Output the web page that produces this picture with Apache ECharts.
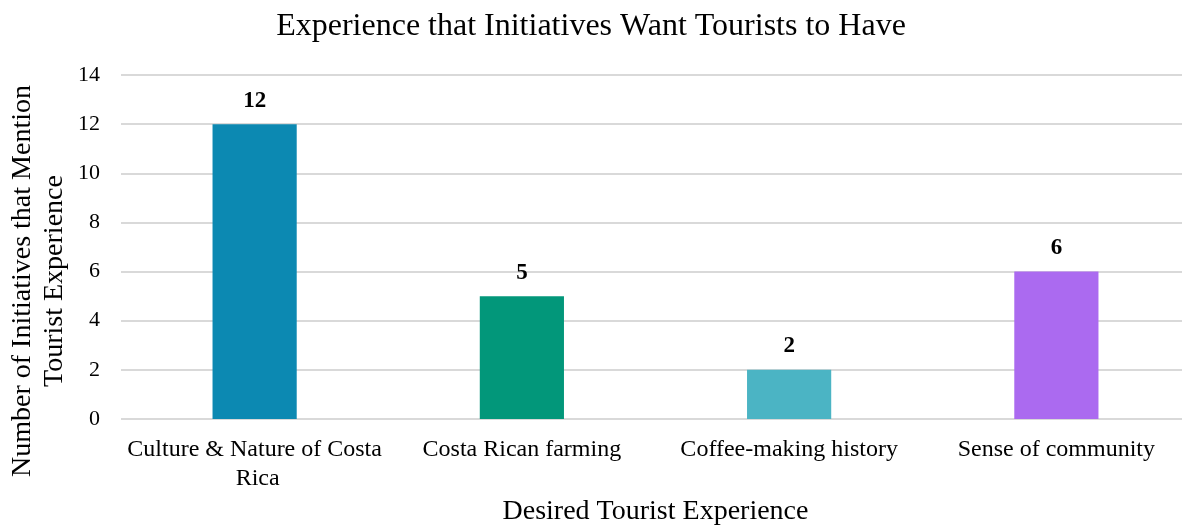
<!DOCTYPE html>
<html>
<head>
<meta charset="utf-8">
<script src="https://cdn.jsdelivr.net/npm/echarts@6/dist/echarts.min.js"></script>
<style>
  html, body { margin: 0; padding: 0; background: #fff; }
  #chart { width: 1182px; height: 529px; }
</style>
</head>
<body>
<div id="chart"></div>
<script>
const categories = ['Culture & Nature of Costa Rica', 'Costa Rican farming', 'Coffee-making history', 'Sense of community'];
const counts = [12, 5, 2, 6];
const barColors = ['#0C89B2', '#02977A', '#4BB4C4', '#AB6AF0'];

const serif = '"Liberation Serif", "Times New Roman", serif';

const myChart = echarts.init(document.getElementById('chart'));
const option = {
  animation: false,
  title: {
    text: 'Experience that Initiatives Want Tourists to Have',
    left: 'center',
    top: 6,
    textStyle: { fontFamily: serif, fontSize: 32, fontWeight: 'normal', color: '#000' }
  },
  grid: { left: 121, right: -8, top: 75, bottom: 110, outerBoundsMode: 'none' },
  graphic: [{
    type: 'text',
    x: 39,
    y: 281,
    rotation: Math.PI / 2,
    style: {
      text: 'Number of Initiatives that Mention\nTourist Experience',
      font: '28px ' + serif,
      fill: '#000',
      align: 'center',
      verticalAlign: 'middle',
      lineHeight: 32
    }
  }],
  xAxis: {
    type: 'category',
    data: categories,
    name: 'Desired Tourist Experience',
    nameLocation: 'middle',
    nameGap: 70,
    nameTextStyle: { fontFamily: serif, fontSize: 28, color: '#000' },
    axisLine: { show: false },
    axisTick: { show: false },
    axisLabel: {
      fontFamily: serif, fontSize: 24, color: '#000', margin: 16,
      width: 258, overflow: 'break', lineHeight: 29, interval: 0
    }
  },
  yAxis: {
    type: 'value',
    min: 0,
    max: 14,
    interval: 2,
    axisLabel: { fontFamily: serif, fontSize: 22, color: '#000', margin: 21 },
    splitLine: { lineStyle: { color: '#d9d9d9', width: 2 } }
  },
  series: [{
    type: 'bar',
    data: counts.map((v, i) => ({ value: v, itemStyle: { color: barColors[i] } })),
    barWidth: '31.5%',
    label: {
      show: true,
      position: 'top',
      distance: 12,
      fontFamily: serif,
      fontSize: 23,
      fontWeight: 'bold',
      color: '#000'
    }
  }]
};
myChart.setOption(option);
</script>
</body>
</html>
